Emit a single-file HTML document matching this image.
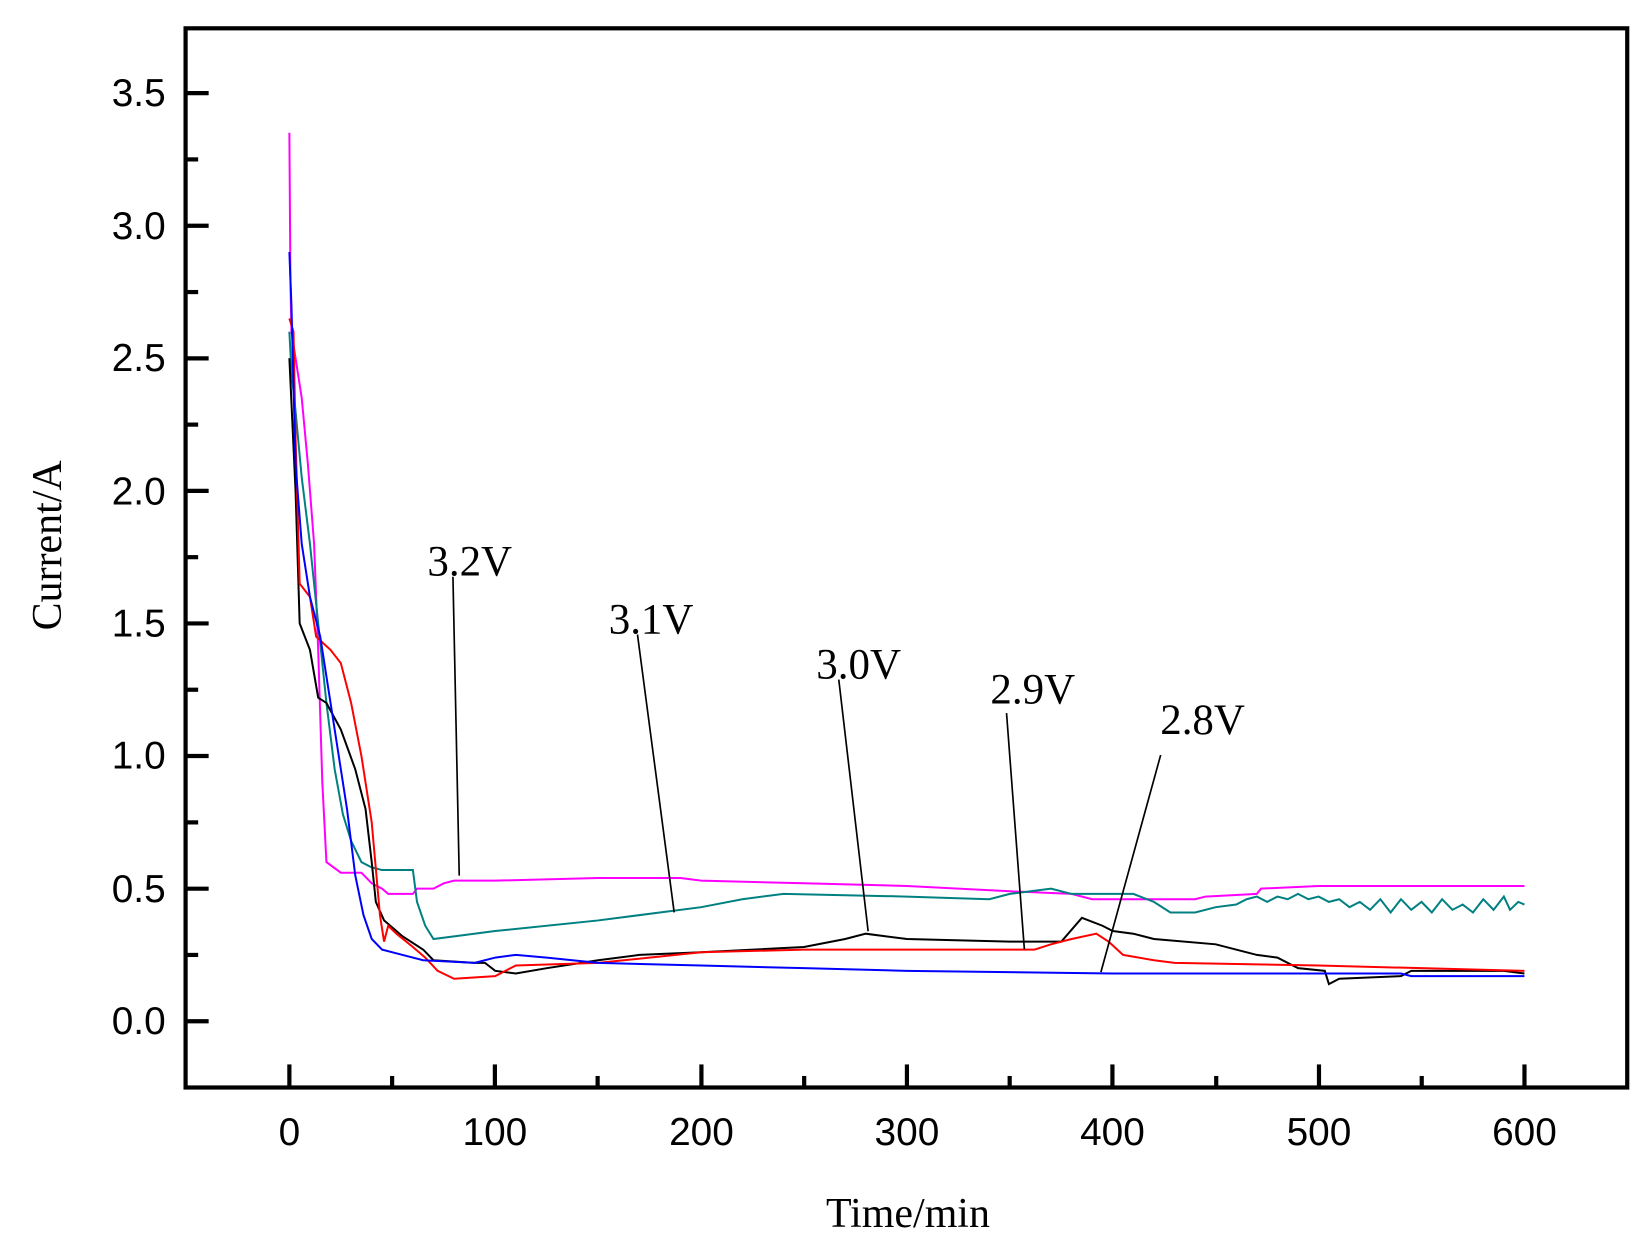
<!DOCTYPE html>
<html><head><meta charset="utf-8"><style>html,body{margin:0;padding:0;background:#fff}svg{display:block}</style></head>
<body>
<svg width="1644" height="1249" viewBox="0 0 1568 1191" preserveAspectRatio="none" xmlns="http://www.w3.org/2000/svg">
<rect x="0" y="0" width="1568" height="1191" fill="#fff"/>
<g stroke="#000" stroke-width="4" fill="none">
<rect x="177" y="27" width="1375" height="1010"/>
</g>
<g stroke="#000" stroke-width="4">
<line x1="177" y1="973.8" x2="199" y2="973.8"/><line x1="177" y1="910.6" x2="189" y2="910.6"/>
<line x1="177" y1="847.4" x2="199" y2="847.4"/><line x1="177" y1="784.2" x2="189" y2="784.2"/>
<line x1="177" y1="720.9" x2="199" y2="720.9"/><line x1="177" y1="657.7" x2="189" y2="657.7"/>
<line x1="177" y1="594.5" x2="199" y2="594.5"/><line x1="177" y1="531.3" x2="189" y2="531.3"/>
<line x1="177" y1="468.1" x2="199" y2="468.1"/><line x1="177" y1="404.9" x2="189" y2="404.9"/>
<line x1="177" y1="341.7" x2="199" y2="341.7"/><line x1="177" y1="278.5" x2="189" y2="278.5"/>
<line x1="177" y1="215.3" x2="199" y2="215.3"/><line x1="177" y1="152.0" x2="189" y2="152.0"/>
<line x1="177" y1="88.8" x2="199" y2="88.8"/>
<line x1="276" y1="1037" x2="276" y2="1015"/><line x1="374" y1="1037" x2="374" y2="1026"/>
<line x1="472" y1="1037" x2="472" y2="1015"/><line x1="570" y1="1037" x2="570" y2="1026"/>
<line x1="669" y1="1037" x2="669" y2="1015"/><line x1="767" y1="1037" x2="767" y2="1026"/>
<line x1="865" y1="1037" x2="865" y2="1015"/><line x1="963" y1="1037" x2="963" y2="1026"/>
<line x1="1061" y1="1037" x2="1061" y2="1015"/><line x1="1160" y1="1037" x2="1160" y2="1026"/>
<line x1="1258" y1="1037" x2="1258" y2="1015"/><line x1="1356" y1="1037" x2="1356" y2="1026"/>
<line x1="1454" y1="1037" x2="1454" y2="1015"/>
</g>
<g font-family="Liberation Sans, sans-serif" font-size="37" fill="#000" text-anchor="end">
<text x="158" y="986">0.0</text><text x="158" y="860">0.5</text><text x="158" y="733">1.0</text>
<text x="158" y="607">1.5</text><text x="158" y="481">2.0</text><text x="158" y="354">2.5</text>
<text x="158" y="228">3.0</text><text x="158" y="101">3.5</text>
</g>
<g font-family="Liberation Sans, sans-serif" font-size="37" fill="#000" text-anchor="middle">
<text x="276" y="1092">0</text><text x="472" y="1092">100</text><text x="669" y="1092">200</text>
<text x="865" y="1092">300</text><text x="1061" y="1092">400</text><text x="1258" y="1092">500</text>
<text x="1454" y="1092">600</text>
</g>
<text x="866" y="1170" font-family="Liberation Serif, serif" font-size="40" text-anchor="middle">Time/min</text>
<text transform="translate(58,520) rotate(-90)" font-family="Liberation Serif, serif" font-size="40" text-anchor="middle">Current/A</text>

<g transform="translate(276,973.8) scale(1.9633,-252.9)" fill="none" stroke-width="2" stroke-linejoin="miter">
<polyline vector-effect="non-scaling-stroke" stroke="#ff00ff" points="0,3.35 0.5,2.8 1,2.6 3,2.5 6,2.35 9,2.1 12,1.8 14,1.4 16,0.9 18,0.6 25,0.56 35,0.56 40,0.52 45,0.5 48,0.48 60,0.48 62,0.5 70,0.5 75,0.52 80,0.53 100,0.53 150,0.54 190,0.54 200,0.53 250,0.52 300,0.51 350,0.49 380,0.48 390,0.46 420,0.46 440,0.46 445,0.47 470,0.48 472,0.5 500,0.51 600,0.51"/>
<polyline vector-effect="non-scaling-stroke" stroke="#008080" points="0,2.6 1,2.45 3,2.3 6,2.05 10,1.8 14,1.5 18,1.2 22,0.95 26,0.78 30,0.68 35,0.6 40,0.58 45,0.57 60,0.57 62,0.45 66,0.36 70,0.31 80,0.32 100,0.34 150,0.38 200,0.43 220,0.46 240,0.48 300,0.47 340,0.46 350,0.48 370,0.5 380,0.48 410,0.48 420,0.45 428,0.41 440,0.41 450,0.43 460,0.44 465,0.46 470,0.47 475,0.45 480,0.47 485,0.46 490,0.48 495,0.46 500,0.47 505,0.45 510,0.46 515,0.43 520,0.45 525,0.42 530,0.46 535,0.41 540,0.46 545,0.42 550,0.45 555,0.41 560,0.46 565,0.42 570,0.44 575,0.41 580,0.46 585,0.42 590,0.47 593,0.42 597,0.45 600,0.44"/>
<polyline vector-effect="non-scaling-stroke" stroke="#000" points="0,2.5 3,2.0 5,1.5 10,1.4 14,1.22 18,1.2 25,1.1 32,0.95 37,0.8 40,0.6 42,0.45 46,0.38 55,0.32 65,0.27 70,0.23 90,0.22 95,0.22 100,0.19 110,0.18 125,0.2 150,0.23 170,0.25 200,0.26 250,0.28 270,0.31 280,0.33 300,0.31 350,0.3 375,0.3 385,0.39 395,0.36 400,0.34 410,0.33 420,0.31 450,0.29 470,0.25 480,0.24 490,0.2 503,0.19 505,0.14 510,0.16 540,0.17 545,0.19 590,0.19 600,0.18"/>
<polyline vector-effect="non-scaling-stroke" stroke="#ff0000" points="0,2.65 2,2.6 3,2.2 5,1.65 10,1.6 13,1.45 20,1.4 25,1.35 30,1.2 35,1.0 40,0.75 44,0.4 46,0.3 48,0.36 52,0.33 60,0.28 66,0.24 72,0.19 80,0.16 100,0.17 110,0.21 150,0.22 200,0.26 250,0.27 300,0.27 355,0.27 362,0.27 370,0.29 380,0.31 392,0.33 398,0.3 405,0.25 420,0.23 430,0.22 500,0.21 550,0.2 600,0.19"/>
<polyline vector-effect="non-scaling-stroke" stroke="#0000ff" points="0,2.9 1,2.7 3,2.1 6,1.8 10,1.6 15,1.45 20,1.2 25,0.95 28,0.8 32,0.55 36,0.4 40,0.31 45,0.27 55,0.25 65,0.23 90,0.22 100,0.24 110,0.25 125,0.24 150,0.22 200,0.21 250,0.2 300,0.19 400,0.18 500,0.18 540,0.18 545,0.17 600,0.17"/>
</g>
<g stroke="#000" stroke-width="1.6">
<line x1="432" y1="550" x2="438" y2="835"/>
<line x1="608" y1="605" x2="643" y2="870"/>
<line x1="800" y1="648" x2="828" y2="888"/>
<line x1="960" y1="680" x2="977" y2="905"/>
<line x1="1107" y1="720" x2="1050" y2="927"/>
</g>
<g font-family="Liberation Serif, serif" font-size="41" fill="#000" text-anchor="middle">
<text x="448" y="549">3.2V</text>
<text x="621" y="604">3.1V</text>
<text x="819" y="647">3.0V</text>
<text x="985" y="671">2.9V</text>
<text x="1147" y="700">2.8V</text>
</g>
</svg>
</body></html>
